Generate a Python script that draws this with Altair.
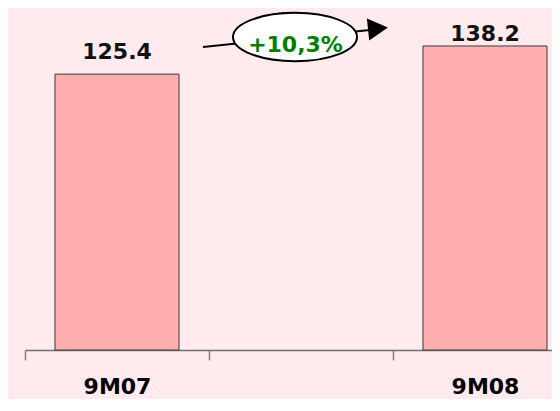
import altair as alt
import pandas as pd

# ---- data ----
categories = ["9M07", "9M08"]
values = [125.4, 138.2]
value_labels = ["125.4", "138.2"]
axis_categories = ["9M07", " ", "9M08"]
growth_label = ["+10,3%"]

df = pd.DataFrame({"period": categories, "value": values, "label": value_labels})
note = pd.DataFrame({"note": growth_label})

FONT = "DejaVu Sans"
BG = "#FFEAEE"
BAR = "#FFAFAF"

x_enc = alt.X(
    "period:N",
    scale=alt.Scale(domain=axis_categories, range=[0, 552], paddingInner=0, paddingOuter=0),
    axis=alt.Axis(
        title=None, labelAngle=0, tickBand="extent", tickSize=10, tickWidth=1.5,
        tickColor="#808080", domainColor="#707070", domainWidth=1.5,
        labelFont=FONT, labelFontSize=22, labelFontWeight="bold", labelColor="#000000",
        labelPadding=16, labelBaseline="top",
    ),
)
y_enc = alt.Y("value:Q", scale=alt.Scale(domain=[0, 150]), axis=None)

base = alt.Chart(df)

bars = base.mark_bar(
    fill=BAR, stroke="#3a3a3a", strokeWidth=1, width=alt.RelativeBandSize(0.674)
).encode(x=x_enc, y=y_enc)

lab1 = base.transform_filter(alt.datum.period == "9M07").mark_text(
    font=FONT, fontSize=22, fontWeight="bold", color="#111111", baseline="alphabetic", dy=-15
).encode(x=x_enc, y=y_enc, text="label:N")
lab2 = base.transform_filter(alt.datum.period == "9M08").mark_text(
    font=FONT, fontSize=22, fontWeight="bold", color="#111111", baseline="alphabetic", dy=-5
).encode(x=x_enc, y=y_enc, text="label:N")

nb = alt.Chart(note)
arrow_line = nb.mark_rule(color="#000000", strokeWidth=2).encode(
    x=alt.value(178), y=alt.value(27), x2=alt.value(345), y2=alt.value(10)
)
ellipse = nb.mark_point(
    shape="M-1,0A1,0.39,0,1,1,1,0A1,0.39,0,1,1,-1,0Z",
    size=124 * 124, filled=True, fill="#FFFFFF", stroke="#000000", strokeWidth=2, opacity=1,
).encode(x=alt.value(270), y=alt.value(17))
arrow_head = nb.mark_point(
    shape="M-1,-1.1L1,0L-1,1.1Z", size=400, filled=True, color="#000000", opacity=1, angle=354
).encode(x=alt.value(353), y=alt.value(8.5))
growth = nb.mark_text(
    font=FONT, fontSize=22, fontWeight="bold", color="#008000", baseline="alphabetic", align="center"
).encode(x=alt.value(270.5), y=alt.value(32), text="note:N")

chart = alt.layer(bars, lab1, lab2, arrow_line, ellipse, arrow_head, growth).properties(
    width=527, height=330,
    autosize=alt.AutoSizeParams(type="none"),
    padding={"left": 17, "top": 12, "right": 0, "bottom": 49},
    background=BG,
).configure_view(stroke=None)

chart.save("out.html", embed_options={"renderer": "svg", "actions": False})
